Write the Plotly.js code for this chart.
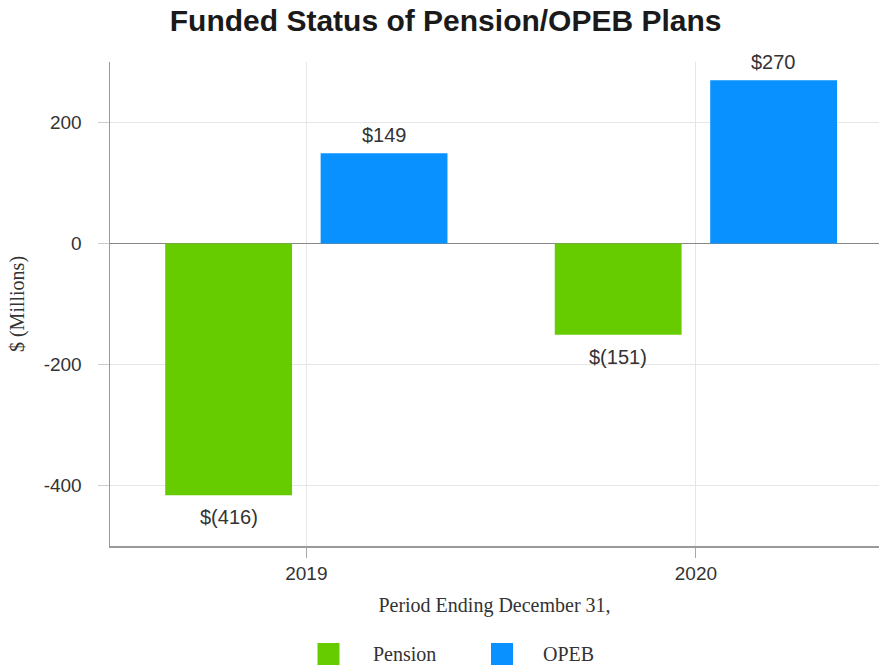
<!DOCTYPE html>
<html>
<head>
<meta charset="utf-8">
<script src="https://cdn.plot.ly/plotly-3.0.1.min.js"></script>
<style>html,body{margin:0;padding:0;background:#fff;}#chart{width:879px;height:672px;}</style>
</head>
<body>
<div id="chart"></div>
<script>
var categories = ["2019", "2020"];
var pensionValues = [-416, -151];
var opebValues = [149, 270];
var seriesNames = ["Pension", "OPEB"];
var seriesColors = ["#66CC00", "#0891FF"];
var yTickValues = [-400, -200, 0, 200];
var yTickLabels = ["-400", "-200", "0", "200"];

function fmt(v) { return v < 0 ? "$(" + Math.abs(v) + ")" : "$" + v; }

var SANS = "Liberation Sans, Arial, Helvetica, sans-serif";
var SERIF = "Liberation Serif, Times New Roman, serif";
var textFont = {family: SANS, size: 19, color: "#333333"};
var serifFont = {family: SERIF, size: 20, color: "#333333"};

var traces = [
  {type: "bar", name: seriesNames[0], x: categories, y: pensionValues,
   marker: {color: seriesColors[0]}, hoverinfo: "none", showlegend: false},
  {type: "bar", name: seriesNames[1], x: categories, y: opebValues,
   marker: {color: seriesColors[1]}, hoverinfo: "none", showlegend: false}
];

// value labels placed through the axes (category index + value), offset to each bar slot
var annotations = [];
var slotShift = 77.8;
[pensionValues, opebValues].forEach(function (vals, si) {
  vals.forEach(function (v, ci) {
    annotations.push({
      x: ci, y: v, xref: "x", yref: "y",
      text: fmt(v), showarrow: false, font: {family: SANS, size: 20, color: "#333333"},
      xshift: si === 0 ? -slotShift : slotShift,
      yshift: v < 0 ? -22 : 18, xanchor: "center", yanchor: "middle"
    });
  });
});

// legend (drawn as paper-anchored squares + labels)
var plotL = 110, plotW = 769, plotB = 546, plotH = 484;
function px(x) { return (x - plotL) / plotW; }
function py(y) { return (plotB - y) / plotH; }
var legendY = py(654);
var legendSquareX = [328.5, 502];
var legendTextX = [371, 541];
var shapes = [];
seriesNames.forEach(function (nm, i) {
  shapes.push({type: "rect", xref: "paper", yref: "paper", xsizemode: "pixel", ysizemode: "pixel",
    xanchor: px(legendSquareX[i]), yanchor: legendY, x0: -11, x1: 11, y0: -11, y1: 11,
    fillcolor: seriesColors[i], line: {width: 0}});
  annotations.push({xref: "paper", yref: "paper", x: px(legendTextX[i]), y: legendY,
    xanchor: "left", yanchor: "middle", text: nm, showarrow: false, font: serifFont});
});

var layout = {
  width: 879, height: 672,
  margin: {l: 110, r: 0, t: 62, b: 126},
  paper_bgcolor: "#ffffff", plot_bgcolor: "#ffffff",
  title: {text: "<b>Funded Status of Pension/OPEB Plans</b>", x: 0.507, xanchor: "center", y: 0.97, yanchor: "middle",
          font: {family: SANS, size: 30, color: "#1a1a1a"}},
  barmode: "group", bargap: 0.202, bargroupgap: 0.184,
  showlegend: false,
  annotations: annotations,
  shapes: shapes,
  xaxis: {type: "category", range: [-0.504, 1.47], showgrid: true, gridcolor: "#e6e6e6",
          showline: true, linecolor: "#999999", linewidth: 1.5, ticks: "outside", ticklen: 10, tickcolor: "#aaaaaa",
          tickfont: textFont, ticklabelstandoff: 0, zeroline: false,
          title: {text: "Period Ending December 31,", standoff: 14, font: serifFont}},
  yaxis: {range: [-500, 300], tickvals: yTickValues, ticktext: yTickLabels, showgrid: true, gridcolor: "#e6e6e6",
          showline: true, linecolor: "#999999", linewidth: 1.5, ticks: "outside", ticklen: 11, tickcolor: "#cccccc",
          tickfont: textFont, ticklabelstandoff: 12, zeroline: true, zerolinecolor: "#888888", zerolinewidth: 1.5,
          title: {text: "$ (Millions)", standoff: 13, font: serifFont}}
};

Plotly.newPlot("chart", traces, layout, {staticPlot: true, displayModeBar: false});
</script>
</body>
</html>
